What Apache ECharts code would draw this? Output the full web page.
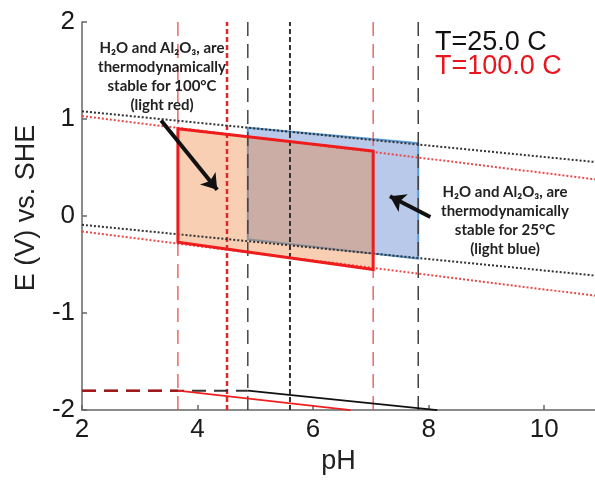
<!DOCTYPE html>
<html><head><meta charset="utf-8">
<script src="https://cdn.jsdelivr.net/npm/echarts@6/dist/echarts.min.js"></script>
<style>html,body{margin:0;padding:0;background:#fff}#c{width:595px;height:480px}</style>
</head><body><div id="c"></div>
<script>
// ---- data (pH, E in V vs SHE) ----
const xTickLabels = ['2','4','6','8','10'];
const yTickLabels = ['-2','-1','0','1','2'];
// water stability lines (dotted), endpoints at pH 2 and pH 11
const o2Line25  = [[2, 1.08], [11, 0.55]];
const h2Line25  = [[2, -0.09], [11, -0.62]];
const o2Line100 = [[2, 1.03], [11, 0.37]];
const h2Line100 = [[2, -0.16], [11, -0.83]];
// Al2O3 solubility bounds (vertical lines)
const vDashed25  = [4.87, 7.82];
const vDotted25  = [5.60];
const vDashed100 = [3.66, 7.04];
const vDotted100 = [4.51];
// stability regions
const region25  = [[4.87, 0.91], [7.82, 0.75], [7.82, -0.44], [4.87, -0.24]];
const region100 = [[3.66, 0.90], [7.04, 0.67], [7.04, -0.55], [3.66, -0.27]];
// Al / Al2O3 lines near the bottom
const alHoriz25  = [[2, -1.80], [4.87, -1.80]];
const alHoriz100 = [[2, -1.80], [3.66, -1.80]];
const alSlope25  = [[4.87, -1.80], [8.15, -2.0]];
const alSlope100 = [[3.66, -1.80], [6.65, -2.0]];
// annotation arrows
const arrow100 = [[3.37, 0.985], [4.34, 0.27]];
const arrow25  = [[8.03, -0.01], [7.33, 0.205]];
const xRange = [2, 10.88];
const yRange = [-2, 2];

const chart = echarts.init(document.getElementById('c'), null, {renderer:'canvas'});

function line(data, color, width, type, z) {
  return {type:'line', data, symbol:'none', showSymbol:false, silent:true, z:z||3,
    lineStyle:{color, width, type}, animation:false};
}
function vline(x, color, width, type, z) {
  return line([[x, yRange[0]], [x, yRange[1]]], color, width, type, z);
}
function poly(points, style, z) {
  return {type:'custom', data: points, z, silent:true, animation:false,
    encode:{x:0, y:1},
    renderItem: function(params, api) {
      if (params.dataIndex !== 0) return null;
      return {type:'polygon', shape:{points: points.map(p => api.coord(p))}, style: style};
    }};
}
function arrow(coords) {
  return {type:'lines', coordinateSystem:'cartesian2d', z:10, silent:true, animation:false,
    symbol:['none','arrow'], symbolSize:15,
    lineStyle:{color:'#111', width:4, opacity:1},
    data:[{coords}]};
}

const series = [
  poly(region25, {fill:'rgba(68,114,196,0.38)', stroke:'#5b9bd5', lineWidth:2}, 1),
  poly(region100, {fill:'rgba(237,125,49,0.37)', stroke:null}, 2),
  line(o2Line25, '#333', 2, [2,2], 4),
  line(h2Line25, '#333', 2, [2,2], 4),
  line(o2Line100, '#e84a4a', 2, [2,2], 4),
  line(h2Line100, '#e84a4a', 2, [2,2], 4),
  ...vDashed100.map(x => vline(x, '#e85050', 1.3, [14,8], 3)),
  ...vDotted100.map(x => vline(x, '#e02828', 2.5, [5,3], 3)),
  ...vDashed25.map(x => vline(x, '#444', 1.5, [14,8], 3)),
  ...vDotted25.map(x => vline(x, '#333', 2, [5,3], 3)),
  poly(region100, {fill:null, stroke:'#ee1c1c', lineWidth:3}, 6),
  line(alHoriz25, '#333', 2, [14,8], 4),
  line(alHoriz100, 'rgba(170,20,20,0.9)', 2.5, [14,8], 5),
  line(alSlope25, '#111', 1.8, 'solid', 5),
  line(alSlope100, '#ee2020', 1.8, 'solid', 5),
  arrow(arrow100),
  arrow(arrow25)
];

const axisFont = {fontFamily:'Liberation Sans', fontSize:26, color:'#1a1a1a'};
chart.setOption({
  animation:false,
  grid:{left:82, right:0, top:22, bottom:68, containLabel:false},
  xAxis:{type:'value', min:xRange[0], max:xRange[1], interval:2,
    name:'pH', nameLocation:'middle', nameGap:34,
    nameTextStyle:{fontFamily:'Liberation Sans', fontSize:27, color:'#222'},
    axisLine:{show:true, onZero:false, lineStyle:{color:'#666', width:1.5}},
    axisTick:{show:true, inside:true, length:5, lineStyle:{color:'#666', width:1.5}},
    axisLabel:Object.assign({margin:7, showMinLabel:true, showMaxLabel:false,
      formatter: v => xTickLabels[xTickLabels.indexOf(String(v))] || ''}, axisFont),
    splitLine:{show:false}},
  yAxis:{type:'value', min:yRange[0], max:yRange[1], interval:1,
    name:'E (V) vs. SHE', nameLocation:'middle', nameGap:42,
    nameTextStyle:{fontFamily:'Liberation Sans', fontSize:27, color:'#222', padding:[0,0,0,16]},
    axisLine:{show:true, onZero:false, lineStyle:{color:'#666', width:1.5}},
    axisTick:{show:true, inside:true, length:5, lineStyle:{color:'#666', width:1.5}},
    axisLabel:Object.assign({margin:7, showMinLabel:true, showMaxLabel:true,
      formatter: v => yTickLabels[yTickLabels.indexOf(String(v))] || ''}, axisFont),
    splitLine:{show:false}},
  graphic:[
    {type:'text', left:435, top:29, z:20, style:{text:'T=25.0 C', fontFamily:'Liberation Sans', fontSize:27, fill:'#111'}},
    {type:'text', left:435, top:53, z:20, style:{text:'T=100.0 C', fontFamily:'Liberation Sans', fontSize:27, fill:'#e8141e'}},
    {type:'text', x:162, y:77, z:20, style:{
      text:'H₂O and Al₂O₃, are\nthermodynamically\nstable for 100°C\n(light red)',
      fontFamily:'Lato', fontWeight:'bold', fontSize:15, lineHeight:19, fill:'#222',
      align:'center', verticalAlign:'middle'}},
    {type:'text', x:505, y:221, z:20, style:{
      text:'H₂O and Al₂O₃, are\nthermodynamically\nstable for 25°C\n(light blue)',
      fontFamily:'Lato', fontWeight:'bold', fontSize:15, lineHeight:19, fill:'#222',
      align:'center', verticalAlign:'middle'}}
  ],
  series
});
</script></body></html>
